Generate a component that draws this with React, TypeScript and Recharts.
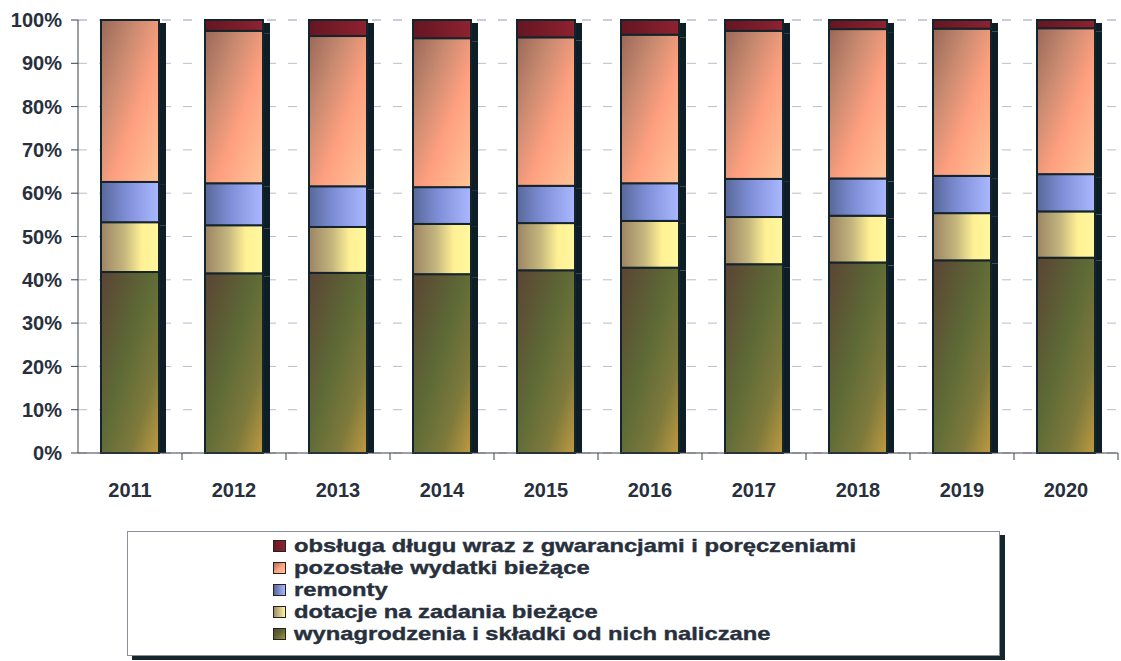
import { BarChart, Bar, XAxis, YAxis, CartesianGrid, Legend } from 'recharts';

const years = ['2011', '2012', '2013', '2014', '2015', '2016', '2017', '2018', '2019', '2020'];
const wynagrodzenia = [41.8, 41.5, 41.6, 41.3, 42.2, 42.8, 43.6, 44.0, 44.5, 45.1];
const dotacje = [11.5, 11.1, 10.6, 11.6, 10.9, 10.8, 10.9, 10.8, 10.9, 10.7];
const remonty = [9.3, 9.7, 9.4, 8.5, 8.6, 8.7, 8.8, 8.6, 8.6, 8.6];
const pozostale = [37.4, 35.2, 34.7, 34.4, 34.3, 34.3, 34.2, 34.5, 34.0, 33.7];
const obsluga = [0.0, 2.5, 3.7, 4.2, 4.0, 3.4, 2.5, 2.1, 2.0, 1.9];
const yTicks = [0, 10, 20, 30, 40, 50, 60, 70, 80, 90, 100];

const series = [
  { key: 'wynagrodzenia', name: 'wynagrodzenia i składki od nich naliczane', grad: 'gGreen', swatch: 'linear-gradient(135deg,#5a4634,#5e6a34,#b49540)' },
  { key: 'dotacje', name: 'dotacje na zadania bieżące', grad: 'gYellow', swatch: 'linear-gradient(90deg,#9c8a6a,#fff59a)' },
  { key: 'remonty', name: 'remonty', grad: 'gBlue', swatch: 'linear-gradient(90deg,#5a6898,#aab6ff)' },
  { key: 'pozostale', name: 'pozostałe wydatki bieżące', grad: 'gOrange', swatch: 'linear-gradient(135deg,#a0705a,#ffa080,#ffc8a0)' },
  { key: 'obsluga', name: 'obsługa długu wraz z gwarancjami i poręczeniami', grad: 'gRed', swatch: 'linear-gradient(90deg,#6a1822,#8c2230)' },
];

const data = years.map((year, i) => ({
  year,
  wynagrodzenia: wynagrodzenia[i],
  dotacje: dotacje[i],
  remonty: remonty[i],
  pozostale: pozostale[i],
  obsluga: obsluga[i],
}));

const FONT = '"Liberation Sans", Arial, sans-serif';
const TEXT = '#27303c';

const Segment = (props: any) => {
  const { x, y, width, height, fill, isBottom } = props;
  if (!height || height <= 0) return <g />;
  return (
    <g>
      <rect x={x + width} y={y + 3} width={7} height={isBottom ? height - 3 : height} fill="#0d1e26" />
      <rect x={x} y={y} width={width} height={height} fill={fill} stroke="#15242a" strokeWidth={2} />
    </g>
  );
};

const XTick = (props: any) => {
  const { x, y, payload, width, visibleTicksCount } = props;
  const band = width / visibleTicksCount;
  return (
    <g>
      <line x1={x + band / 2} x2={x + band / 2} y1={y} y2={y + 7} stroke="#3a4048" />
      <text x={x} y={y + 44} textAnchor="middle" fill={TEXT} fontSize={20} fontWeight="bold" fontFamily={FONT}>
        {payload.value}
      </text>
    </g>
  );
};

const renderLegend = () => (
  <div
    style={{
      boxSizing: 'border-box',
      width: 873,
      height: 125,
      border: '1px solid #8a8f98',
      boxShadow: '5px 4px 0 #16262e',
      background: '#fff',
      paddingLeft: 145,
      paddingTop: 3,
      fontFamily: FONT,
      fontWeight: 'bold',
      fontSize: 19,
      color: TEXT,
    }}
  >
    {[...series].reverse().map((s) => (
      <div key={s.key} style={{ height: 22, lineHeight: '22px', display: 'flex', alignItems: 'center' }}>
        <span
          style={{
            display: 'inline-block',
            width: 11,
            height: 10,
            border: '1px solid #222',
            background: s.swatch,
            marginRight: 8,
          }}
        />
        <span
          style={{
            display: 'inline-block',
            transform: 'scaleX(1.25)',
            transformOrigin: 'left center',
            whiteSpace: 'nowrap',
            WebkitTextStroke: '0.4px #27303c',
          }}
        >
          {s.name}
        </span>
      </div>
    ))}
  </div>
);

export default function App() {
  return (
    <div style={{ position: 'absolute', left: 0, top: 0 }}>
      <BarChart width={1121} height={661} data={data} margin={{ top: 20, right: 3, left: 0, bottom: 33 }} barSize={58}>
        <defs>
          <linearGradient id="gGreen" x1="0" y1="0" x2="1" y2="1">
            <stop offset="0%" stopColor="#5a4434" />
            <stop offset="45%" stopColor="#5e6a36" />
            <stop offset="75%" stopColor="#7e7a3c" />
            <stop offset="100%" stopColor="#c09a40" />
          </linearGradient>
          <linearGradient id="gYellow" x1="0" y1="0" x2="1" y2="0">
            <stop offset="0%" stopColor="#9c8464" />
            <stop offset="40%" stopColor="#c4b67e" />
            <stop offset="70%" stopColor="#fff094" />
            <stop offset="100%" stopColor="#fff8a0" />
          </linearGradient>
          <linearGradient id="gBlue" x1="0" y1="0" x2="1" y2="0">
            <stop offset="0%" stopColor="#58689a" />
            <stop offset="45%" stopColor="#8090d8" />
            <stop offset="100%" stopColor="#aab8ff" />
          </linearGradient>
          <linearGradient id="gOrange" x1="0" y1="0" x2="1" y2="1">
            <stop offset="0%" stopColor="#9a6858" />
            <stop offset="30%" stopColor="#c88a70" />
            <stop offset="60%" stopColor="#ffa080" />
            <stop offset="100%" stopColor="#ffc498" />
          </linearGradient>
          <linearGradient id="gRed" x1="0" y1="0" x2="1" y2="0">
            <stop offset="0%" stopColor="#641622" />
            <stop offset="100%" stopColor="#8e2230" />
          </linearGradient>
        </defs>
        <CartesianGrid vertical={false} stroke="#b8bccf" strokeDasharray="9 12" />
        <XAxis
          dataKey="year"
          height={50}
          axisLine={{ stroke: '#3a4048' }}
          tickLine={false}
          tickSize={0}
          tickMargin={0}
          interval={0}
          tick={<XTick />}
        />
        <YAxis
          type="number"
          domain={[0, 100]}
          ticks={yTicks}
          tickFormatter={(v: number) => `${v}%`}
          width={78}
          axisLine={{ stroke: '#3a4048' }}
          tickLine={{ stroke: '#3a4048' }}
          tickSize={7}
          tickMargin={9}
          tick={{ fill: TEXT, fontSize: 20, fontWeight: 'bold', fontFamily: FONT }}
        />
        {series.map((s, i) => (
          <Bar
            key={s.key}
            dataKey={s.key}
            name={s.name}
            stackId="a"
            fill={`url(#${s.grad})`}
            isAnimationActive={false}
            shape={(p: any) => <Segment {...p} isBottom={i === 0} />}
          />
        ))}
        <Legend
          content={renderLegend}
          wrapperStyle={{ position: 'absolute', left: 127, top: 531, bottom: 'auto', width: 873, height: 125 }}
        />
      </BarChart>
    </div>
  );
}
